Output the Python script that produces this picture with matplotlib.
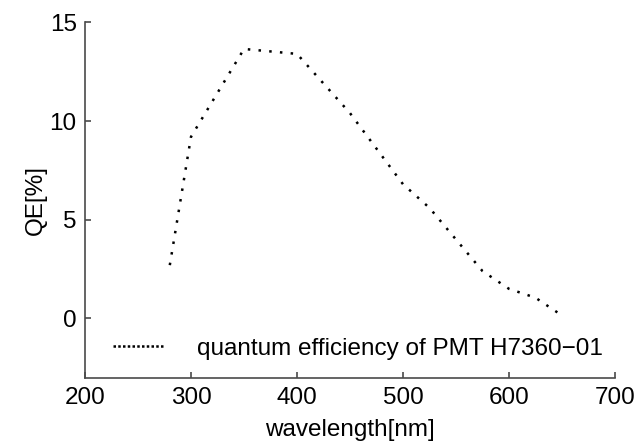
import matplotlib
matplotlib.use('Agg')
import matplotlib.pyplot as plt
from matplotlib.lines import Line2D

# wavelength [nm] and quantum efficiency [%]
wavelength = [280, 300, 350, 400, 450, 500, 525, 575, 600, 625, 650]
qe = [2.7, 9.2, 13.65, 13.4, 10.4, 6.8, 5.6, 2.4, 1.5, 1.05, 0.15]
label = 'quantum efficiency of PMT H7360\u221201'

plt.rcParams['font.family'] = ['Liberation Sans', 'DejaVu Sans']
plt.rcParams['font.size'] = 17.5

fig = plt.figure(figsize=(6.37, 4.41), dpi=100)
ax = fig.add_axes([85/637, 1-377.7/441, 530/637, 355.4/441])

ax.plot(wavelength, qe, color='black', lw=1.8, linestyle=(0, (1, 3.3)))

ax.set_xlim(200, 700)
ax.set_ylim(-3, 15)
ax.set_xticks([200, 300, 400, 500, 600, 700])
ax.set_yticks([0, 5, 10, 15])

for s in ['top', 'right']:
    ax.spines[s].set_visible(False)
for s in ['left', 'bottom']:
    ax.spines[s].set_color('#4a4a4a')
    ax.spines[s].set_linewidth(1.2)
ax.tick_params(direction='in', length=4, width=1.2, color='#4a4a4a', labelsize=17.5)
ax.tick_params(axis='y', pad=6)
ax.tick_params(axis='x', pad=7)

ax.set_xlabel('wavelength[nm]', fontsize=17.5, labelpad=7)
ax.set_ylabel('QE[%]', fontsize=17.5, labelpad=2)

h = Line2D([], [], color='black', lw=1.8, linestyle=(0, (1, 0.9)))
ax.legend([h], [label], loc='lower left', bbox_to_anchor=(0.011, -0.011), frameon=False,
          handlelength=2.06, handletextpad=1.4, fontsize=17.5)

fig.savefig('out.png', dpi=100)
